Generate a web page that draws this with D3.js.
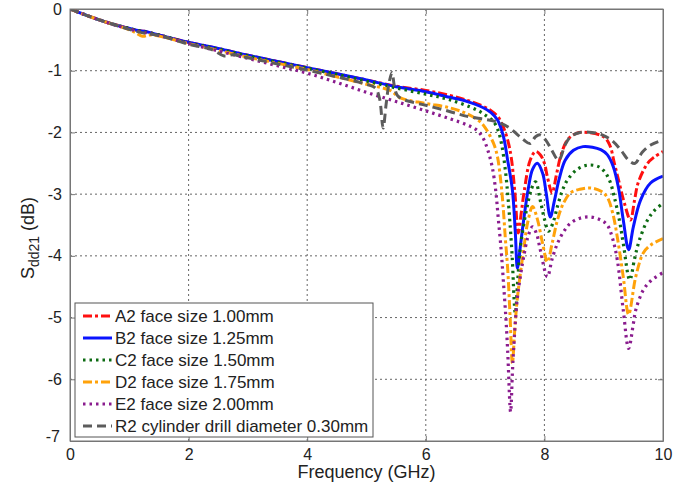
<!DOCTYPE html>
<html>
<head>
<meta charset="utf-8">
<script src="https://cdn.jsdelivr.net/npm/d3@7"></script>
<style>
  body { margin: 0; background: #fff; }
  svg text { font-family: Arial, "Liberation Sans", sans-serif; fill: #222; }
</style>
</head>
<body>
<svg id="chart" width="693" height="488"></svg>
<script>
// values: [frequency GHz, Sdd21 dB]
const freqTicks = [0, 2, 4, 6, 8, 10];
const dbTicks = [0, -1, -2, -3, -4, -5, -6, -7];

const a2 = [[0,0],[0.3,-0.11],[0.6,-0.21],[0.9,-0.29],[1.15,-0.35],[1.25,-0.36],[1.5,-0.42],[2,-0.54],[2.5,-0.64],[3,-0.75],[3.5,-0.85],[4,-0.95],[4.5,-1.05],[5,-1.15],[5.5,-1.25],[6,-1.32],[6.4,-1.4],[6.7,-1.48],[6.95,-1.57],[7.1,-1.65],[7.22,-1.75],[7.31,-1.92],[7.38,-2.12],[7.44,-2.4],[7.5,-2.95],[7.56,-3.63],[7.61,-3.3],[7.66,-2.95],[7.76,-2.45],[7.85,-2.31],[7.93,-2.36],[8.0,-2.5],[8.05,-2.72],[8.13,-2.98],[8.2,-2.7],[8.27,-2.4],[8.39,-2.12],[8.55,-2.01],[8.73,-2.0],[9.0,-2.07],[9.1,-2.2],[9.18,-2.5],[9.27,-2.85],[9.35,-3.15],[9.45,-3.42],[9.52,-3.1],[9.58,-2.82],[9.74,-2.5],[9.85,-2.4],[10,-2.31]];
const b2 = [[0,0],[0.3,-0.11],[0.6,-0.21],[0.9,-0.29],[1.15,-0.35],[1.25,-0.36],[1.5,-0.42],[2,-0.54],[2.5,-0.64],[3,-0.75],[3.5,-0.85],[4,-0.95],[4.5,-1.05],[5,-1.15],[5.5,-1.26],[6,-1.34],[6.4,-1.43],[6.7,-1.5],[6.97,-1.6],[7.1,-1.68],[7.21,-1.8],[7.31,-2.07],[7.38,-2.45],[7.46,-2.93],[7.51,-3.63],[7.545,-4.2],[7.6,-3.8],[7.66,-3.35],[7.73,-2.9],[7.8,-2.6],[7.88,-2.5],[7.97,-2.66],[8.03,-2.98],[8.1,-3.37],[8.17,-3.1],[8.25,-2.75],[8.35,-2.45],[8.49,-2.29],[8.65,-2.23],[8.81,-2.24],[8.95,-2.28],[9.06,-2.36],[9.16,-2.55],[9.25,-2.9],[9.33,-3.42],[9.42,-3.9],[9.5,-3.53],[9.62,-3.1],[9.79,-2.82],[10,-2.71]];
const c2 = [[0,0],[0.3,-0.11],[0.6,-0.21],[0.9,-0.29],[1.15,-0.35],[1.25,-0.37],[1.5,-0.42],[2,-0.55],[2.5,-0.65],[3,-0.76],[3.5,-0.86],[4,-0.96],[4.5,-1.06],[5,-1.17],[5.5,-1.28],[6,-1.38],[6.4,-1.47],[6.87,-1.64],[7.05,-1.75],[7.14,-1.82],[7.22,-1.97],[7.28,-2.2],[7.34,-2.6],[7.39,-3.1],[7.45,-3.9],[7.51,-4.93],[7.55,-4.4],[7.59,-3.9],[7.65,-3.5],[7.71,-3.2],[7.78,-2.92],[7.85,-2.8],[7.93,-3.1],[8.0,-3.4],[8.07,-3.6],[8.15,-3.45],[8.22,-3.2],[8.3,-2.95],[8.39,-2.77],[8.55,-2.6],[8.73,-2.53],[8.9,-2.55],[9.0,-2.62],[9.1,-2.78],[9.18,-3.05],[9.27,-3.45],[9.33,-3.8],[9.44,-4.39],[9.52,-4.05],[9.6,-3.75],[9.74,-3.42],[9.85,-3.27],[10,-3.15]];
const d2 = [[0,0],[0.3,-0.11],[0.6,-0.21],[0.9,-0.3],[1.1,-0.38],[1.22,-0.44],[1.35,-0.42],[1.6,-0.46],[2,-0.56],[2.5,-0.67],[3,-0.78],[3.5,-0.88],[4,-0.98],[4.5,-1.1],[5,-1.22],[5.4,-1.32],[5.57,-1.44],[6,-1.53],[6.4,-1.6],[6.7,-1.7],[6.92,-1.83],[7.02,-1.95],[7.09,-2.07],[7.16,-2.22],[7.21,-2.4],[7.26,-2.75],[7.3,-3.15],[7.34,-3.7],[7.38,-4.2],[7.42,-4.95],[7.46,-5.74],[7.5,-5.2],[7.54,-4.72],[7.6,-4.25],[7.65,-3.9],[7.72,-3.45],[7.8,-3.2],[7.88,-3.4],[7.97,-3.8],[8.05,-4.1],[8.13,-3.8],[8.22,-3.42],[8.32,-3.15],[8.44,-2.98],[8.6,-2.92],[8.78,-2.9],[8.95,-2.95],[9.06,-3.05],[9.15,-3.3],[9.23,-3.7],[9.33,-4.34],[9.42,-4.95],[9.54,-4.34],[9.67,-3.95],[9.8,-3.82],[10,-3.72]];
const e2 = [[0,0],[0.3,-0.11],[0.6,-0.21],[0.9,-0.3],[1.15,-0.36],[1.25,-0.38],[1.5,-0.43],[2,-0.56],[2.5,-0.68],[3,-0.8],[3.5,-0.92],[4,-1.04],[4.5,-1.19],[5,-1.35],[5.5,-1.5],[6,-1.65],[6.41,-1.78],[6.7,-1.88],[6.87,-1.97],[6.97,-2.1],[7.05,-2.3],[7.12,-2.56],[7.18,-2.95],[7.22,-3.37],[7.27,-3.9],[7.31,-4.44],[7.35,-5.0],[7.38,-5.53],[7.43,-6.53],[7.46,-5.9],[7.48,-5.53],[7.54,-4.72],[7.6,-4.3],[7.65,-4.02],[7.72,-3.7],[7.8,-3.53],[7.87,-3.65],[7.93,-3.9],[8.05,-4.34],[8.13,-4.05],[8.22,-3.8],[8.33,-3.6],[8.44,-3.47],[8.6,-3.39],[8.78,-3.37],[8.95,-3.42],[9.06,-3.5],[9.15,-3.72],[9.23,-4.07],[9.33,-4.88],[9.42,-5.5],[9.5,-5.1],[9.54,-4.88],[9.67,-4.55],[9.8,-4.4],[10,-4.27]];
const r2 = [[0,0],[0.3,-0.11],[0.6,-0.21],[0.9,-0.3],[1.15,-0.37],[1.25,-0.39],[1.5,-0.43],[2,-0.57],[2.4,-0.66],[2.6,-0.76],[2.75,-0.74],[2.9,-0.77],[3.2,-0.83],[3.6,-0.91],[4,-0.99],[4.5,-1.1],[5.0,-1.22],[5.15,-1.28],[5.22,-1.45],[5.28,-1.93],[5.33,-1.55],[5.38,-1.2],[5.43,-1.03],[5.47,-1.25],[5.52,-1.4],[5.6,-1.46],[6.0,-1.56],[6.4,-1.66],[6.7,-1.74],[7.0,-1.79],[7.2,-1.83],[7.4,-1.92],[7.54,-2.03],[7.65,-2.12],[7.76,-2.18],[7.85,-2.07],[7.93,-2.04],[8.02,-2.12],[8.12,-2.28],[8.24,-2.45],[8.35,-2.2],[8.44,-2.07],[8.6,-2.0],[8.8,-2.0],[9.0,-2.05],[9.15,-2.14],[9.3,-2.3],[9.42,-2.45],[9.53,-2.5],[9.65,-2.32],[9.8,-2.2],[10,-2.12]];

const seriesNames = ['A2 face size 1.00mm', 'B2 face size 1.25mm', 'C2 face size 1.50mm',
  'D2 face size 1.75mm', 'E2 face size 2.00mm', 'R2 cylinder drill diameter 0.30mm'];
const seriesValues = [a2, b2, c2, d2, e2, r2];
const seriesColors = ['#ff1010', '#0a14ff', '#0d6b12', '#ffa20a', '#8a1c8e', '#5c5c5c'];
const seriesDash = ['9,3,3,3', null, '2.5,4', '9,3,3,3', '2.5,4', '9,5'];
const seriesWidth = [3, 3, 3.2, 3, 3.2, 3];

const svg = d3.select('#chart');
const margin = { left: 70, right: 30, top: 9, bottom: 47 };
const width = 693 - margin.left - margin.right;
const height = 488 - margin.top - margin.bottom;

const x = d3.scaleLinear().domain([0, 10]).range([0, width]);
const y = d3.scaleLinear().domain([-7, 0]).range([height, 0]);
const fmt = (d) => String(d);

const g = svg.append('g').attr('transform', `translate(${margin.left},${margin.top})`);

// dotted grid
g.append('g').selectAll('line').data(freqTicks.slice(1, -1)).enter().append('line')
  .attr('x1', (d) => x(d)).attr('x2', (d) => x(d)).attr('y1', 0).attr('y2', height)
  .attr('stroke', '#666').attr('stroke-width', 1).attr('stroke-dasharray', '2,3');
g.append('g').selectAll('line').data(dbTicks.slice(1, -1)).enter().append('line')
  .attr('y1', (d) => y(d)).attr('y2', (d) => y(d)).attr('x1', 0).attr('x2', width)
  .attr('stroke', '#666').attr('stroke-width', 1).attr('stroke-dasharray', '2,3');

// axes with inward ticks (MATLAB style)
const xAxis = g.append('g').attr('transform', `translate(0,${height})`)
  .call(d3.axisBottom(x).tickValues(freqTicks).tickFormat(fmt).tickSizeInner(-5).tickSizeOuter(0).tickPadding(8));
const yAxis = g.append('g')
  .call(d3.axisLeft(y).tickValues(dbTicks).tickFormat(fmt).tickSizeInner(-5).tickSizeOuter(0).tickPadding(8));
g.append('g').call(d3.axisTop(x).tickValues(freqTicks).tickSizeInner(-5).tickSizeOuter(0).tickFormat(''));
g.append('g').attr('transform', `translate(${width},0)`)
  .call(d3.axisRight(y).tickValues(dbTicks).tickSizeInner(-5).tickSizeOuter(0).tickFormat(''));
g.selectAll('.domain').attr('stroke', '#777');
g.selectAll('.tick line').attr('stroke', '#777');
xAxis.selectAll('text').style('font-size', '16px').attr('fill', '#222');
yAxis.selectAll('text').style('font-size', '16px').attr('fill', '#222');
yAxis.selectAll('.tick').filter((d) => d === -7).select('text').attr('dy', '0.05em').attr('x', -10);

// curves
const line = d3.line().x((d) => x(d[0])).y((d) => y(d[1])).curve(d3.curveCatmullRom.alpha(0.5));
svg.append('clipPath').attr('id', 'plotclip').append('rect')
  .attr('width', width).attr('height', height);
const curves = g.append('g').attr('clip-path', 'url(#plotclip)');
seriesValues.forEach((vals, i) => {
  curves.append('path').datum(vals)
    .attr('d', line)
    .attr('fill', 'none')
    .attr('stroke', seriesColors[i])
    .attr('stroke-width', seriesWidth[i])
    .attr('stroke-dasharray', seriesDash[i])
    .attr('stroke-linejoin', 'round');
});

// frame
g.append('rect').attr('width', width).attr('height', height)
  .attr('fill', 'none').attr('stroke', '#777').attr('stroke-width', 1);

// legend
const legend = g.append('g').attr('transform', `translate(${75 - margin.left},${303 - margin.top})`);
legend.append('rect').attr('width', 298).attr('height', 134)
  .attr('fill', '#fff').attr('stroke', '#555').attr('stroke-width', 1);
seriesNames.forEach((name, i) => {
  const ly = 13 + i * 22;
  legend.append('line').attr('x1', 8).attr('x2', 37).attr('y1', ly).attr('y2', ly)
    .attr('stroke', seriesColors[i]).attr('stroke-width', seriesWidth[i])
    .attr('stroke-dasharray', seriesDash[i]);
  legend.append('text').attr('x', 40).attr('y', ly).attr('dy', '0.36em')
    .style('font-size', '17px').text(name);
});

// axis titles
svg.append('text').attr('x', margin.left + width / 2).attr('y', 478)
  .attr('text-anchor', 'middle').style('font-size', '18px').text('Frequency (GHz)');
const ylab = svg.append('text').attr('transform', `translate(34,${margin.top + 229}) rotate(-90)`)
  .attr('text-anchor', 'middle').style('font-size', '18px');
ylab.append('tspan').text('S');
ylab.append('tspan').attr('dy', 5).style('font-size', '14px').text('dd21');
ylab.append('tspan').attr('dy', -5).text(' (dB)');
</script>
</body>
</html>
